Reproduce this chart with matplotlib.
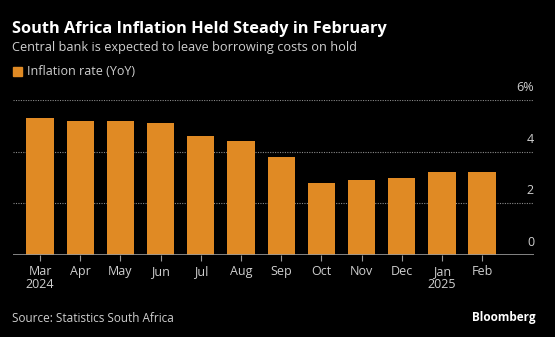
import numpy as np
import matplotlib.pyplot as plt

# 数据
months = ['Mar\n2024', 'Apr', 'May', 'Jun', 'Jul', 'Aug', 'Sep', 'Oct', 'Nov', 'Dec', 'Jan\n2025', 'Feb']
inflation = [5.3, 5.2, 5.2, 5.1, 4.6, 4.4, 3.8, 2.8, 2.9, 3.0, 3.2, 3.2]
y_ticks = [0, 2, 4, 6]
y_labels = ['0', '2', '4', '6%']

W, H = 555, 337
bar_color = '#E08A24'
text_color = '#cfcfcf'

plt.rcParams['font.family'] = ['Open Sans', 'DejaVu Sans']

fig = plt.figure(figsize=(W / 100, H / 100), dpi=100, facecolor='black')
ax = fig.add_axes([12.7 / W, 1 - 255 / H, (534 - 12.7) / W, 155 / H], facecolor='black')

x = np.arange(len(months))
ax.bar(x, inflation, width=0.68, color=bar_color, zorder=2)

ax.set_xlim(-0.68, 12.29)
ax.set_ylim(0, 6)

# 网格线 + 右侧标签
for t, lab in zip(y_ticks, y_labels):
    if t > 0:
        ax.axhline(t, color='#8a8a8a', lw=0.8, ls=(0, (1, 1.2)), zorder=1)
    ax.annotate(lab, xy=(1, t), xycoords=('axes fraction', 'data'),
                xytext=(0, 9), textcoords='offset points',
                ha='right', va='center', color=text_color, fontsize=9)
ax.axhline(0, color='#9a9a9a', lw=1.2, zorder=3)

ax.set_yticks([])
ax.set_xticks(x)
ax.set_xticklabels(months, color=text_color, fontsize=9, linespacing=1.05)
ax.tick_params(axis='x', length=4, width=0.8, color='#9a9a9a', pad=3)
for s in ax.spines.values():
    s.set_visible(False)

# 标题
fig.text(12 / W, 1 - 33 / H, 'South Africa Inflation Held Steady in February',
         color='white', fontsize=11.8, fontweight='bold', ha='left', va='baseline')
fig.text(12 / W, 1 - 51 / H, 'Central bank is expected to leave borrowing costs on hold',
         color=text_color, fontsize=9.2, ha='left', va='baseline')
fig.patches.append(plt.Rectangle((13 / W, 1 - 76 / H), 9 / W, 9 / H, color=bar_color,
                                 transform=fig.transFigure, figure=fig))
fig.text(27 / W, 1 - 71.5 / H, 'Inflation rate (YoY)', color=text_color, fontsize=9,
         ha='left', va='center')
fig.text(12 / W, 1 - 318 / H, 'Source: Statistics South Africa', color=text_color,
         fontsize=8.5, ha='left', va='center')
fig.text(536 / W, 1 - 318 / H, 'Bloomberg', color='white', fontsize=8.5,
         fontweight='bold', ha='right', va='center')

fig.savefig('out.png', dpi=100, facecolor='black')
